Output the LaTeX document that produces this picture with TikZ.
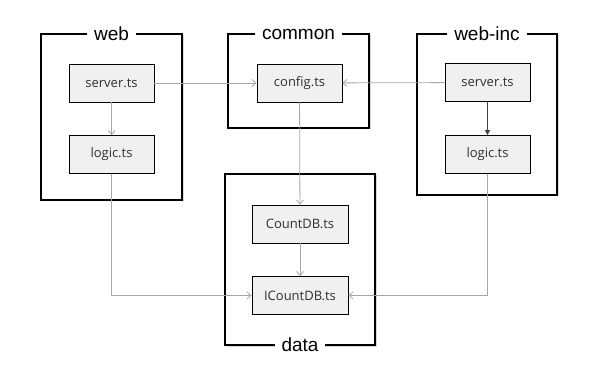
\documentclass[tikz,border=0pt]{standalone}
\usepackage{fontspec}
\setmainfont{Open Sans}
\newfontfamily\titlefont{Liberation Sans}
\usetikzlibrary{arrows.meta, positioning, shadows}
\definecolor{cline}{HTML}{A6A6A6}
\definecolor{cfill}{HTML}{F0F0F0}
\definecolor{cdark}{HTML}{404040}
\definecolor{ctext}{HTML}{303030}
\tikzset{
  every picture/.style={x=1pt, y=-1pt},
  group/.style={draw=black, line width=2pt, fill=white, drop shadow={shadow xshift=1.5pt, shadow yshift=-1.5pt, opacity=0.3}},
  gtitle/.style={fill=white, inner xsep=7pt, inner ysep=2pt, font=\titlefont\fontsize{19}{19}\selectfont},
  file/.style={draw=black, fill=cfill, text=ctext, line width=0.8pt, minimum width=85pt, minimum height=38pt, font=\fontsize{13}{15}\selectfont},
  dep/.style={-{Straight Barb[length=4pt, width=7pt]}, draw=cline, line width=0.8pt},
  use/.style={-{Triangle[length=5pt, width=5pt]}, draw=cdark, line width=0.8pt},
}

\begin{document}
\begin{tikzpicture}
  \useasboundingbox (0,0) rectangle (605,374);
  % group frames
  \draw[group] (41,34) rectangle (182,200);
  \draw[group] (228,34) rectangle (369,128);
  \draw[group] (417,34) rectangle (557,195);
  \draw[group] (225,174) rectangle (375,345);
  \node[gtitle] (tweb) at (111.5,34) {web};
  \node[gtitle] (tcommon) at (298.5,34) {common};
  \node[gtitle] (tinc) at (487,34) {web-inc};
  \node[gtitle] (tdata) at (300,345) {data};
  % files
  \node[file] (wserver) at (111.5,83) {server.ts};
  \node[file] (wlogic) at (111.5,154.5) {logic.ts};
  \node[file] (config) at (299.5,83) {config.ts};
  \node[file] (iserver) at (487.5,82.5) {server.ts};
  \node[file] (ilogic) at (487.5,154.5) {logic.ts};
  \node[file, minimum width=96pt] (countdb) at (300,224) {CountDB.ts};
  \node[file, minimum width=96pt] (icountdb) at (300,295.5) {ICountDB.ts};
  % dependencies
  \draw[dep] (wserver) -- (config);
  \draw[dep] (iserver) -- (config);
  \draw[dep] (wserver) -- (wlogic);
  \draw[use] (iserver) -- (ilogic);
  \draw[dep] (config) -- (countdb);
  \draw[dep] (countdb) -- (icountdb);
  \draw[dep] (wlogic.south) |- (icountdb.west);
  \draw[dep] (ilogic.south) |- (icountdb.east);
\end{tikzpicture}
\end{document}
